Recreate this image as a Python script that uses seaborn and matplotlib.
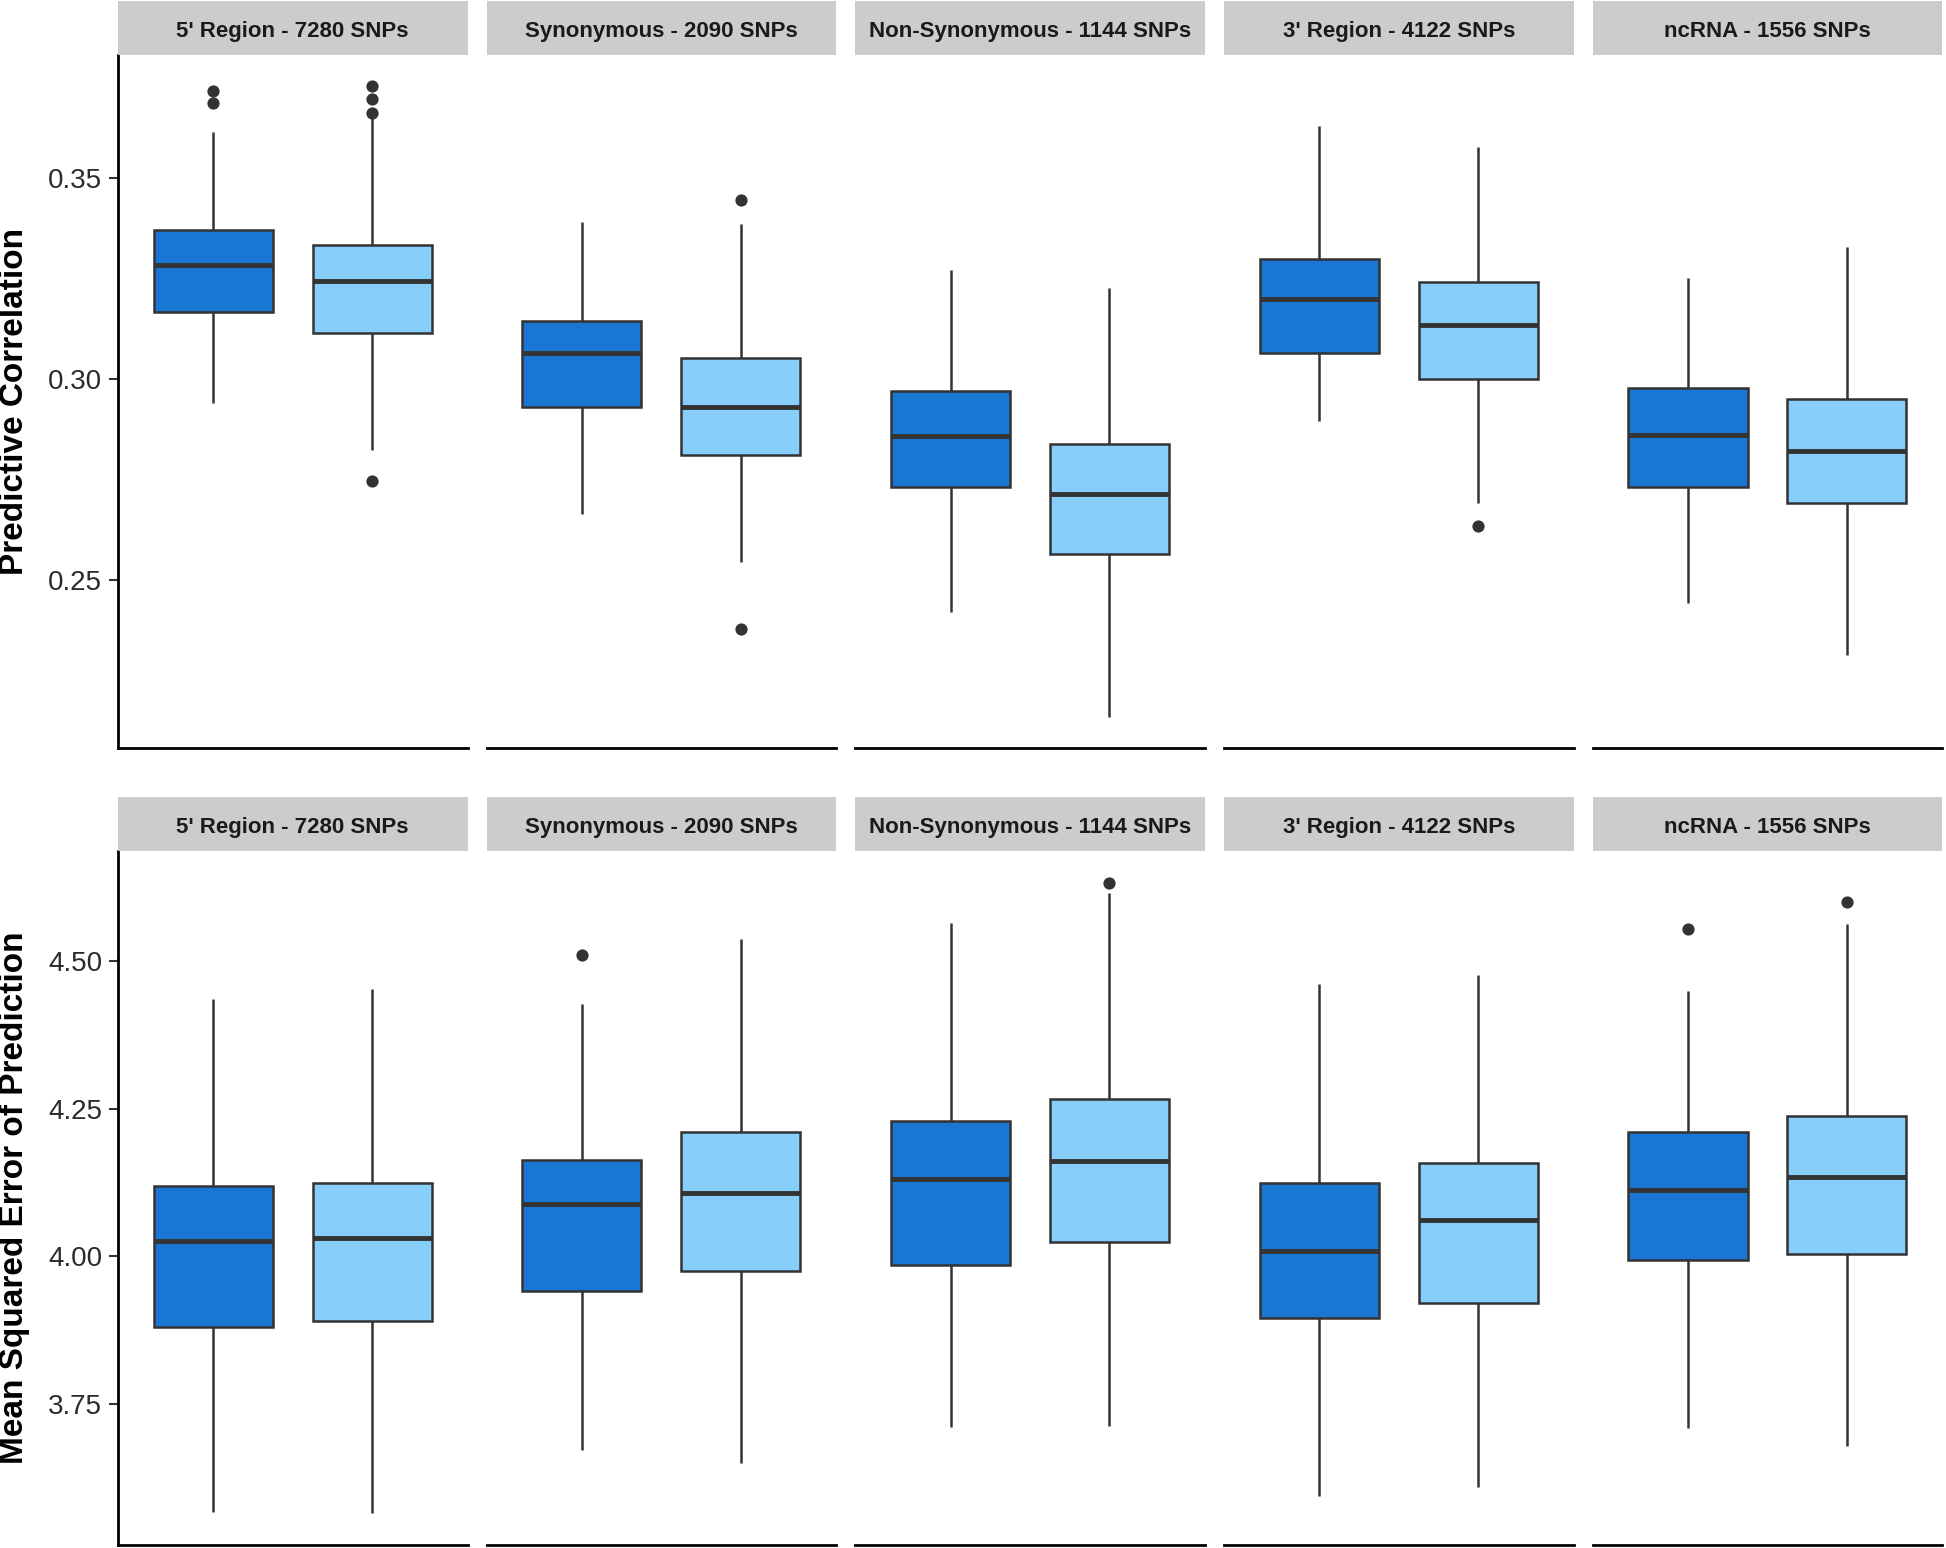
import numpy as np
import pandas as pd
import seaborn as sns
import matplotlib.pyplot as plt

regions = ["5' Region - 7280 SNPs", "Synonymous - 2090 SNPs", "Non-Synonymous - 1144 SNPs",
           "3' Region - 4122 SNPs", "ncRNA - 1556 SNPs"]
groups = ["Set A", "Set B"]
colors = ["#1976D2", "#87CEFA"]

# box summaries per region as [dark, light]
cor_low = [[0.2941, 0.2824], [0.2665, 0.2546], [0.2422, 0.2161], [0.2896, 0.2691], [0.2443, 0.2313]]
cor_q1 = [[0.3167, 0.3115], [0.2930, 0.2812], [0.2731, 0.2564], [0.3064, 0.3001], [0.2731, 0.2691]]
cor_med = [[0.3285, 0.3244], [0.3064, 0.2932], [0.2858, 0.2714], [0.3200, 0.3136], [0.2861, 0.2821]]
cor_q3 = [[0.3371, 0.3333], [0.3144, 0.3052], [0.2970, 0.2840], [0.3299, 0.3242], [0.2977, 0.2951]]
cor_high = [[0.3615, 0.3650], [0.3391, 0.3387], [0.3271, 0.3227], [0.3630, 0.3578], [0.3251, 0.3329]]
cor_out = [[[0.3716, 0.3688], [0.3728, 0.3698, 0.3662, 0.2747]], [[], [0.3445, 0.2379]],
           [[], []], [[], [0.2635]], [[], []]]
cor_ticks = [0.25, 0.30, 0.35]

mse_low = [[3.567, 3.565], [3.672, 3.650], [3.712, 3.713], [3.594, 3.610], [3.709, 3.679]]
mse_q1 = [[3.880, 3.891], [3.941, 3.976], [3.985, 4.024], [3.896, 3.921], [3.994, 4.004]]
mse_med = [[4.026, 4.031], [4.088, 4.108], [4.132, 4.161], [4.010, 4.062], [4.113, 4.135]]
mse_q3 = [[4.119, 4.125], [4.163, 4.210], [4.229, 4.266], [4.125, 4.158], [4.211, 4.237]]
mse_high = [[4.436, 4.452], [4.427, 4.537], [4.564, 4.616], [4.461, 4.477], [4.450, 4.563]]
mse_out = [[[], []], [[4.510], []], [[], [4.633]], [[], []], [[4.554], [4.600]]]
mse_ticks = [3.75, 4.00, 4.25, 4.50]


def make_frames(low, q1, med, q3, high, out):
    box_rows, out_rows = [], []
    for i, r in enumerate(regions):
        for j, g in enumerate(groups):
            for v in (low[i][j], q1[i][j], med[i][j], q3[i][j], high[i][j]):
                box_rows.append((r, g, v))
            for v in out[i][j]:
                out_rows.append((r, g, v))
    cols = ["region", "group", "value"]
    return pd.DataFrame(box_rows, columns=cols), pd.DataFrame(out_rows, columns=cols)


sns.set_style("white")
plt.rcParams['font.family'] = ['Liberation Sans', 'DejaVu Sans']

W, H = 1946, 1548
fig = plt.figure(figsize=(W / 100, H / 100), dpi=100)

lefts = [118, 486.6, 855.3, 1224, 1592.7]
pw = 349.5
strip_h = 54

panels = [
    dict(frames=make_frames(cor_low, cor_q1, cor_med, cor_q3, cor_high, cor_out),
         ticks=cor_ticks, top=55, bottom=748, label="Predictive Correlation"),
    dict(frames=make_frames(mse_low, mse_q1, mse_med, mse_q3, mse_high, mse_out),
         ticks=mse_ticks, top=851, bottom=1545, label="Mean Squared Error of Prediction"),
]

for row in panels:
    box_df, out_df = row["frames"]
    allv = pd.concat([box_df["value"], out_df["value"]])
    span = allv.max() - allv.min()
    ylim = (allv.min() - 0.05 * span, allv.max() + 0.05 * span)

    for c, reg in enumerate(regions):
        l = lefts[c]
        ax = fig.add_axes([l / W, 1 - row["bottom"] / H, pw / W, (row["bottom"] - row["top"]) / H])
        sns.boxplot(data=box_df[box_df["region"] == reg], x="group", y="value", hue="group",
                    order=groups, hue_order=groups, palette=colors, saturation=1,
                    width=0.75, dodge=False, whis=(0, 100), linecolor="#333333",
                    linewidth=1.8, medianprops=dict(linewidth=3.5), showcaps=False,
                    legend=False, ax=ax)
        sub = out_df[out_df["region"] == reg]
        if len(sub):
            sns.stripplot(data=sub, x="group", y="value", order=groups, color="#333333",
                          jitter=False, size=8.8, linewidth=0, ax=ax, zorder=5)
        ax.set_xlim(-0.6, 1.6)
        ax.set_ylim(ylim)
        ax.set_xlabel("")
        ax.set_ylabel("")
        ax.set_xticks([])
        ax.set_yticks(row["ticks"])
        ax.set_yticklabels([f"{t:.2f}" for t in row["ticks"]])
        for s in ("top", "right"):
            ax.spines[s].set_visible(False)
        ax.spines["bottom"].set_linewidth(2)
        ax.spines["bottom"].set_color("black")
        if c == 0:
            ax.spines["left"].set_linewidth(2)
            ax.spines["left"].set_color("black")
            ax.tick_params(axis="y", length=6.5, width=1.5, color="#333333",
                           labelsize=20, labelcolor="#2b2b2b", pad=5, left=True)
        else:
            ax.spines["left"].set_visible(False)
            ax.tick_params(axis="y", left=False, labelleft=False)

        sax = fig.add_axes([l / W, 1 - row["top"] / H, pw / W, strip_h / H])
        sax.set_facecolor("#CCCCCC")
        sax.set_xticks([])
        sax.set_yticks([])
        for s in sax.spines.values():
            s.set_visible(False)
        sax.text(0.5, 0.44, reg, ha="center", va="center", fontsize=16,
                 fontweight="bold", color="#1A1A1A", transform=sax.transAxes)

    fig.text(15 / W, 1 - (row["top"] + row["bottom"]) / 2 / H, row["label"], rotation=90,
             ha="center", va="center", fontsize=24, fontweight="bold", color="black")

fig.savefig("out.png", dpi=100)
